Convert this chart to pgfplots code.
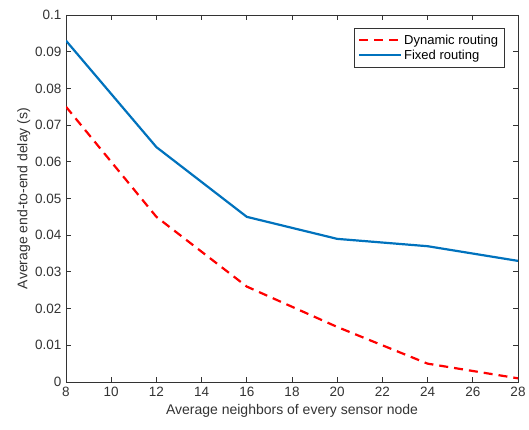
\documentclass[border=0pt]{standalone}
\usepackage{pgfplots}
\pgfplotsset{compat=1.18}
\usepackage{fontspec}
\setmainfont{Liberation Sans}
\definecolor{mblue}{rgb}{0,0.447,0.741}
\definecolor{axgray}{rgb}{0.2,0.2,0.2}
\begin{document}
\begin{tikzpicture}
\path (-66pt,-48pt) rectangle (463pt,382pt);
\begin{axis}[
  at={(0,0)}, anchor=south west,
  scale only axis, width=452pt, height=367pt,
  xmin=8, xmax=28, ymin=0, ymax=0.1,
  xtick={8,10,...,28},
  ytick={0,0.01,...,0.1},
  yticklabels={0,0.01,0.02,0.03,0.04,0.05,0.06,0.07,0.08,0.09,0.1},
  tick align=inside,
  major tick length=5pt,
  axis line style={axgray, line width=0.9pt},
  every tick/.style={axgray, line width=0.9pt},
  tick label style={font=\fontsize{13.5}{15}\selectfont, text=axgray},
  xticklabel style={yshift=-2pt},
  yticklabel style={xshift=-1pt},
  /pgf/number format/assume math mode=true,
  xlabel={Average neighbors of every sensor node},
  ylabel={Average end-to-end delay (s)},
  label style={font=\fontsize{14}{16}\selectfont, text=axgray},
  xlabel style={yshift=0pt},
  ylabel style={yshift=-2pt},
  legend style={at={(0.97,0.965)}, anchor=north east, draw=axgray, line width=0.7pt,
    font=\fontsize{13}{15}\selectfont, inner xsep=4pt, inner ysep=4.5pt,
    /tikz/every even column/.append style={column sep=0pt}},
  legend cell align=left,
  legend image code/.code={\draw[#1] (0pt,0pt) -- (42pt,0pt);},
  every legend entry/.style={text depth=1pt},
]
\addplot[red, dash pattern=on 9pt off 6pt, line width=2.2pt] coordinates {
  (8,0.075) (12,0.045) (16,0.026) (20,0.015) (24,0.005) (28,0.001)};
\addlegendentry{Dynamic routing}
\addplot[mblue, line width=2.2pt] coordinates {
  (8,0.093) (12,0.064) (16,0.045) (20,0.039) (24,0.037) (28,0.033)};
\addlegendentry{Fixed routing}
\end{axis}
\end{tikzpicture}
\end{document}
